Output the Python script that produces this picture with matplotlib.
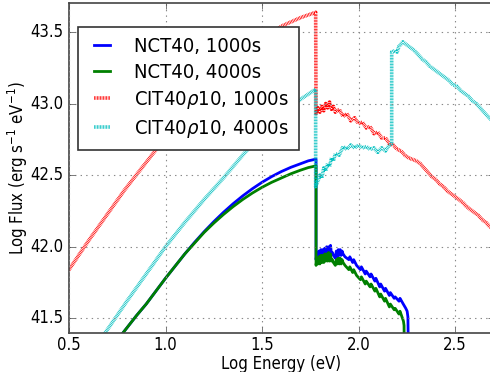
import matplotlib
matplotlib.use("Agg")
import matplotlib.pyplot as plt
from matplotlib import font_manager

# ---------------- data ----------------
nct1000_x = [0.76, 0.85, 0.90, 0.95, 1.00, 1.05, 1.10, 1.15, 1.20, 1.25, 1.30, 1.35, 1.40,
             1.45, 1.50, 1.55, 1.60, 1.65, 1.70, 1.74, 1.78,
             1.780, 1.785, 1.790, 1.795, 1.800, 1.805, 1.810, 1.815, 1.820, 1.825,
             1.830, 1.835, 1.840, 1.845, 1.850, 1.855, 1.860, 1.865, 1.870, 1.880,
             1.885, 1.890, 1.895, 1.900, 1.905, 1.910, 1.915, 1.920, 1.930, 1.950,
             1.955, 1.970, 1.975, 1.990, 2.010, 2.015, 2.035, 2.040, 2.060, 2.065,
             2.085, 2.090, 2.110, 2.115, 2.135, 2.140, 2.160, 2.165, 2.185, 2.190,
             2.210, 2.215, 2.232, 2.245, 2.252, 2.256, 2.258]
nct1000_y = [41.365, 41.52, 41.60, 41.69, 41.78, 41.865, 41.95, 42.03, 42.105, 42.175, 42.24,
             42.30, 42.355, 42.405, 42.45, 42.49, 42.525, 42.555, 42.58, 42.60, 42.612,
             41.91, 41.96, 41.92, 41.97, 41.92, 41.98, 41.93, 41.98, 41.93, 41.99,
             41.94, 42.00, 41.95, 42.00, 41.95, 42.01, 41.95, 41.96, 41.94, 41.92,
             41.97, 41.93, 41.98, 41.94, 41.98, 41.94, 41.97, 41.95, 41.93, 41.91,
             41.93, 41.89, 41.91, 41.87, 41.84, 41.86, 41.81, 41.83, 41.79, 41.81,
             41.76, 41.78, 41.72, 41.74, 41.69, 41.71, 41.66, 41.68, 41.64, 41.65,
             41.62, 41.64, 41.60, 41.57, 41.55, 41.51, 41.30]

nct4000_x = [0.76, 0.85, 0.90, 0.95, 1.00, 1.05, 1.10, 1.15, 1.20, 1.25, 1.30, 1.35, 1.40,
             1.45, 1.50, 1.55, 1.60, 1.65, 1.70, 1.74, 1.78,
             1.780, 1.785, 1.790, 1.795, 1.800, 1.805, 1.810, 1.815, 1.820, 1.825,
             1.830, 1.835, 1.840, 1.845, 1.850, 1.855, 1.860, 1.865, 1.870, 1.880,
             1.885, 1.890, 1.895, 1.900, 1.905, 1.910, 1.915, 1.920, 1.930, 1.950,
             1.955, 1.970, 1.975, 1.990, 2.010, 2.015, 2.035, 2.040, 2.060, 2.065,
             2.085, 2.090, 2.110, 2.115, 2.135, 2.140, 2.160, 2.165, 2.185, 2.190,
             2.210, 2.215, 2.228, 2.233, 2.236, 2.237]
nct4000_y = [41.365, 41.52, 41.60, 41.69, 41.78, 41.865, 41.95, 42.025, 42.10, 42.165, 42.225,
             42.28, 42.33, 42.375, 42.415, 42.45, 42.48, 42.51, 42.535, 42.553, 42.565,
             41.87, 41.92, 41.88, 41.93, 41.88, 41.94, 41.89, 41.94, 41.89, 41.95,
             41.90, 41.95, 41.90, 41.96, 41.90, 41.95, 41.90, 41.91, 41.89, 41.87,
             41.91, 41.88, 41.92, 41.88, 41.92, 41.88, 41.91, 41.89, 41.87, 41.84,
             41.86, 41.82, 41.84, 41.80, 41.77, 41.79, 41.74, 41.76, 41.72, 41.74,
             41.69, 41.71, 41.65, 41.67, 41.62, 41.64, 41.58, 41.60, 41.56, 41.57,
             41.53, 41.55, 41.50, 41.48, 41.45, 41.30]

cit1000_x = [0.49, 0.60, 0.70, 0.79, 0.90, 0.97, 1.10, 1.20, 1.30, 1.40, 1.50, 1.60, 1.70, 1.778,
             1.780, 1.79, 1.80, 1.81, 1.82, 1.83, 1.84, 1.85, 1.86, 1.87, 1.88, 1.90,
             1.92, 1.94, 1.96, 1.98, 2.00, 2.02, 2.04, 2.06, 2.08, 2.10, 2.12, 2.14,
             2.16, 2.18, 2.20, 2.22, 2.24, 2.26, 2.28, 2.30, 2.32, 2.34, 2.36, 2.38,
             2.40, 2.42, 2.44, 2.46, 2.48, 2.50, 2.52, 2.54, 2.56, 2.58, 2.60, 2.62,
             2.64, 2.66, 2.68, 2.70]
cit1000_y = [41.82, 42.04, 42.23, 42.40, 42.59, 42.71, 42.91, 43.06, 43.20, 43.32, 43.44, 43.54, 43.60, 43.637,
             42.93, 42.97, 42.94, 42.98, 42.95, 43.00, 42.97, 43.01, 42.96, 42.98, 42.94, 42.96,
             42.91, 42.93, 42.88, 42.90, 42.86, 42.87, 42.83, 42.84, 42.79, 42.80, 42.76, 42.76,
             42.72, 42.71, 42.68, 42.67, 42.64, 42.62, 42.61, 42.60, 42.58, 42.55, 42.52, 42.49,
             42.47, 42.44, 42.42, 42.39, 42.37, 42.35, 42.33, 42.31, 42.28, 42.26, 42.24, 42.22,
             42.19, 42.17, 42.14, 42.12]

cit4000_x = [0.67, 0.80, 0.90, 1.00, 1.10, 1.20, 1.30, 1.40, 1.50, 1.60, 1.70, 1.778,
             1.778, 1.79, 1.80, 1.81, 1.82, 1.83, 1.84, 1.85, 1.86, 1.87, 1.88, 1.90,
             1.92, 1.94, 1.96, 1.98, 2.00, 2.02, 2.04, 2.06, 2.08, 2.10, 2.12, 2.14,
             2.16, 2.172, 2.172, 2.19, 2.20, 2.21, 2.23, 2.25, 2.27, 2.29, 2.31, 2.33,
             2.35, 2.37, 2.39, 2.41, 2.43, 2.45, 2.47, 2.49, 2.51, 2.53, 2.55, 2.57,
             2.59, 2.61, 2.63, 2.65, 2.67, 2.70]
cit4000_y = [41.365, 41.62, 41.81, 42.00, 42.17, 42.33, 42.48, 42.64, 42.79, 42.92, 43.03, 43.10,
             42.42, 42.46, 42.50, 42.48, 42.55, 42.53, 42.58, 42.56, 42.62, 42.60, 42.65, 42.64,
             42.70, 42.68, 42.71, 42.69, 42.71, 42.69, 42.70, 42.68, 42.69, 42.66, 42.69, 42.67,
             42.71, 42.72, 43.36, 43.37, 43.36, 43.40, 43.43, 43.41, 43.39, 43.37, 43.34, 43.31,
             43.29, 43.26, 43.24, 43.22, 43.20, 43.18, 43.16, 43.13, 43.12, 43.09, 43.07, 43.05,
             43.02, 43.00, 42.97, 42.94, 42.91, 42.87]

labels = ["NCT40, 1000s", "NCT40, 4000s",
          r"CIT40$\rho$10, 1000s", r"CIT40$\rho$10, 4000s"]
xticks = [0.5, 1.0, 1.5, 2.0, 2.5]
yticks = [41.5, 42.0, 42.5, 43.0, 43.5]

# ---------------- style ----------------
plt.style.use("classic")
cond = [f for f in font_manager.fontManager.ttflist
        if f.name == "DejaVu Sans" and "condensed" in str(f.stretch)]
plt.rcParams["font.family"] = ["DejaVu Sans"]
if cond:
    plt.rcParams["font.stretch"] = "condensed"
plt.rcParams["mathtext.fontset"] = "dejavusans"
plt.rcParams["figure.facecolor"] = "white"
plt.rcParams["savefig.facecolor"] = "white"

fig = plt.figure(figsize=(4.90, 3.72), dpi=100)
ax = fig.add_axes([69/490, (372-332.7)/372, 424.6/490, 329.4/372])

dot = (0, (0.55, 0.55))
ax.plot(nct1000_x, nct1000_y, color="b", lw=2, label=labels[0])
ax.plot(nct4000_x, nct4000_y, color="g", lw=2, label=labels[1])
ax.plot(cit1000_x, cit1000_y, color="r", lw=2.6, linestyle=dot, label=labels[2])
ax.plot(cit4000_x, cit4000_y, color="c", lw=2.6, linestyle=dot, label=labels[3])

ax.set_xlim(0.5, 2.7)
ax.set_ylim(41.4, 43.7)
ax.set_xticks(xticks)
ax.set_yticks(yticks)
ax.set_xticklabels([f"{v:.1f}" for v in xticks], fontsize=12)
ax.set_yticklabels([f"{v:.1f}" for v in yticks], fontsize=12)
ax.grid(True, color="#888888", linestyle=":", linewidth=0.8)
for s in ax.spines.values():
    s.set_color("#444444")
    s.set_linewidth(1.2)
ax.tick_params(direction="in", length=4, color="#444444")
ax.tick_params(axis="x", pad=2.5)

ax.set_xlabel("Log Energy (eV)", fontsize=12, labelpad=0.5)
ax.set_ylabel(r"Log Flux (erg s$^{-1}$ eV$^{-1}$)", fontsize=12, labelpad=0)

leg = ax.legend(loc="upper left", bbox_to_anchor=(78/490, 1-27/372),
                bbox_transform=fig.transFigure, borderaxespad=0,
                fontsize=14.5, handlelength=1.4, handletextpad=0.9,
                borderpad=0.5, labelspacing=0.35, fancybox=False, framealpha=1)
leg.get_frame().set_edgecolor("#333333")
leg.get_frame().set_linewidth(1.2)

fig.savefig("out.png", dpi=100)
